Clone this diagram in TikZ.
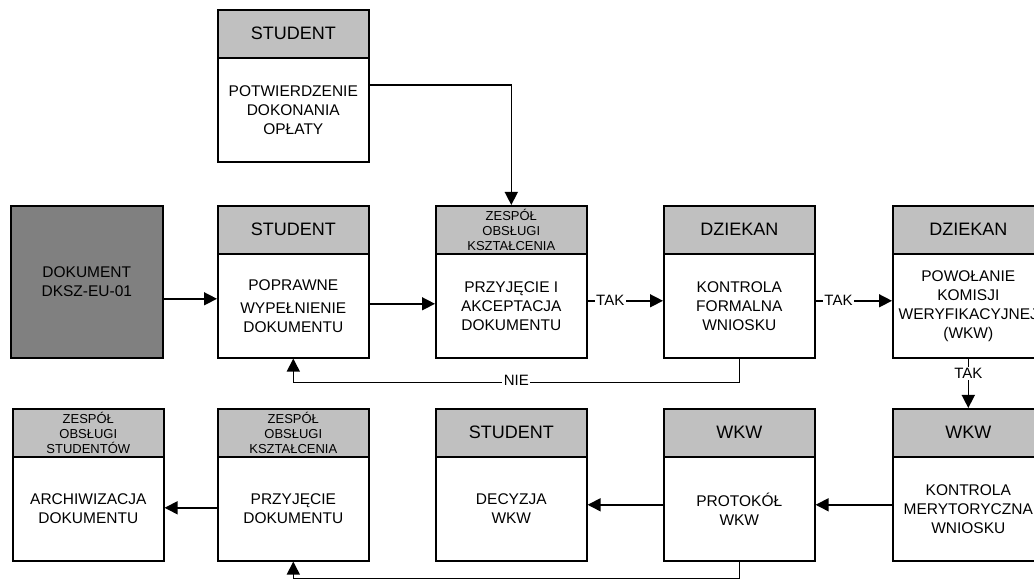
\documentclass[tikz,border=0pt]{standalone}
\usepackage{fontspec}
\setmainfont{Liberation Sans}
\usetikzlibrary{arrows.meta,calc}
\definecolor{hgray}{RGB}{192,192,192}
\definecolor{dgray}{RGB}{128,128,128}
\begin{document}
\begin{tikzpicture}[x=1pt,y=-1pt,
  hdr/.style={draw, line width=1.6pt, fill=hgray, minimum width=151pt, minimum height=48pt, inner sep=0pt, align=center, font=\fontsize{18}{20}\selectfont, anchor=north west},
  bdy/.style={draw, line width=1.6pt, fill=white, minimum width=151pt, minimum height=104pt, inner sep=0pt, align=center, font=\fontsize{15.5}{19}\selectfont, anchor=north west},
  dokbox/.style={draw, line width=1.6pt, fill=dgray, minimum width=152pt, minimum height=152pt, inner sep=0pt, align=center, font=\fontsize{15.5}{19}\selectfont, anchor=north west},
  small/.style={font=\fontsize{13}{15}\selectfont},
  conn/.style={line width=1.5pt, -{Triangle[length=13pt,width=13pt]}},
  lbl/.style={fill=white, inner sep=1.5pt, font=\fontsize{15}{17}\selectfont}
]
\useasboundingbox (0,0) rectangle (1034,585);
\clip (0,0) rectangle (1034,585);

% top
\node[hdr] (th) at (217,9) {STUDENT};
\node[bdy] (tb) at (217,57) {POTWIERDZENIE\\DOKONANIA\\OPŁATY};

% row 1
\node[dokbox] (dok) at (10,205) {DOKUMENT\\DKSZ-EU-01};
\node[hdr] (s1h) at (217,205) {STUDENT};
\node[bdy] (s1b) at (217,253) {POPRAWNE\\[4pt]WYPEŁNIENIE\\DOKUMENTU};
\node[hdr,small] (akh) at (435,205) {ZESPÓŁ\\OBSŁUGI\\KSZTAŁCENIA};
\node[bdy] (akb) at (435,253) {PRZYJĘCIE I\\AKCEPTACJA\\DOKUMENTU};
\node[hdr] (d1h) at (663,205) {DZIEKAN};
\node[bdy] (d1b) at (663,253) {KONTROLA\\FORMALNA\\WNIOSKU};
\node[hdr] (d2h) at (892,205) {DZIEKAN};
\node[bdy] (d2b) at (892,253) {POWOŁANIE\\KOMISJI\\WERYFIKACYJNEJ\\(WKW)};

% row 2
\node[hdr,small] (ah) at (12,408) {ZESPÓŁ\\OBSŁUGI\\STUDENTÓW};
\node[bdy] (ab) at (12,456) {ARCHIWIZACJA\\DOKUMENTU};
\node[hdr,small] (ph) at (217,408) {ZESPÓŁ\\OBSŁUGI\\KSZTAŁCENIA};
\node[bdy] (pb) at (217,456) {PRZYJĘCIE\\DOKUMENTU};
\node[hdr] (s2h) at (435,408) {STUDENT};
\node[bdy] (s2b) at (435,456) {DECYZJA\\WKW};
\node[hdr] (w1h) at (663,408) {WKW};
\node[bdy] (w1b) at (663,456) {PROTOKÓŁ\\WKW};
\node[hdr] (w2h) at (892,408) {WKW};
\node[bdy] (w2b) at (892,456) {KONTROLA\\MERYTORYCZNA\\WNIOSKU};

% connectors
\draw[conn] ($(tb.north east)+(0,28)$) -| (akh.north);
\draw[conn] ($(dok.east)+(0,17)$) -- ($(s1b.west)+(0,-7)$);
\draw[conn] ($(s1b.east)+(0,-2)$) -- ($(akb.west)+(0,-2)$);
\draw[conn] ($(akb.east)+(0,-5)$) -- node[lbl,pos=0.3]{TAK} ($(d1b.west)+(0,-5)$);
\draw[conn] ($(d1b.east)+(0,-5)$) -- node[lbl,pos=0.3]{TAK} ($(d2b.west)+(0,-5)$);
\draw[conn] (d1b.south) -- ++(0,24) -| node[lbl,pos=0.25,anchor=south,yshift=-5pt]{NIE} (s1b.south);
\draw[conn] (d2b.south) -- node[lbl,pos=0.3]{TAK} (w2h.north);
\draw[conn] ($(w2b.west)+(0,-4)$) -- ($(w1b.east)+(0,-4)$);
\draw[conn] ($(w1b.west)+(0,-4)$) -- ($(s2b.east)+(0,-4)$);
\draw[conn] ($(pb.west)+(0,-1)$) -- ($(ab.east)+(0,-1)$);
\draw[conn] (w1b.south) -- ++(0,17) -| (pb.south);
\end{tikzpicture}
\end{document}
